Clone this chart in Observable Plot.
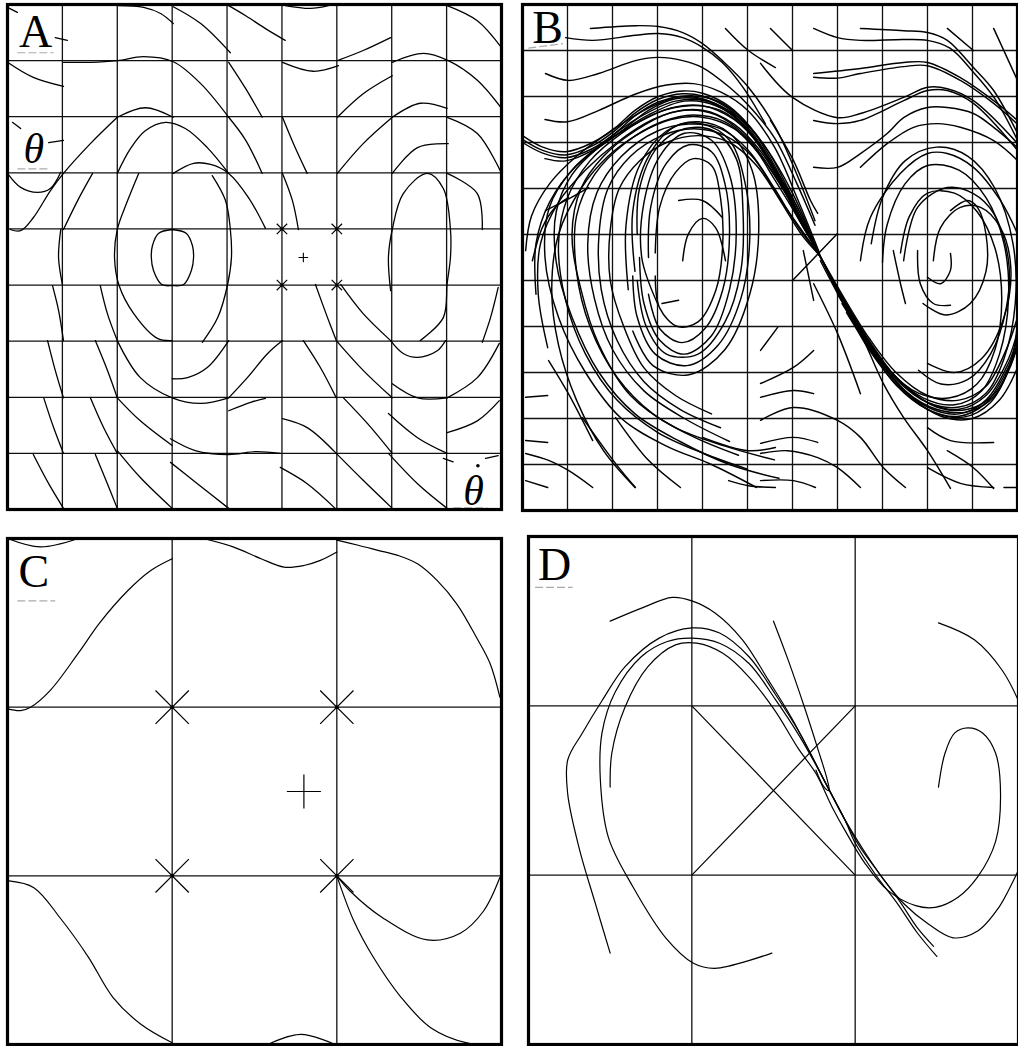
<!DOCTYPE html>
<html><head><meta charset="utf-8">
<script src="https://cdn.jsdelivr.net/npm/d3@7"></script>
<script src="https://cdn.jsdelivr.net/npm/@observablehq/plot@0.6"></script>
<style>
html,body{margin:0;padding:0;background:#fff;overflow:hidden;}
#page{position:relative;width:1018px;height:1046px;overflow:hidden;background:#fff;}
#page svg{position:absolute;}
</style></head><body><div id="page"></div>
<script>
// ---------------- DATA (grid-cell units, y measured downward) ----------------
const gridA = [1,2,3,4,5,6,7,8];
const gridB = [1,2,3,4,5,6,7,8,9,10];
const grid3 = [1,2];

const curvesA = [
 [[0,0.05],[0.18,0.14]],
 [[0.87,0.59],[1.09,0.64]],
 [[2.02,0.02],[2.48,0.05],[2.79,0.16],[3.02,0.34]],
 [[3.02,0.04],[3.52,0.34],[4.06,0.86]],
 [[4.03,0.02],[4.34,0.2],[4.7,0.43],[5.06,0.64]],
 [[5.06,0.02],[5.52,0.07],[5.85,0.02]],
 [[6.01,1.0],[6.48,0.82],[6.98,0.59]],
 [[8.01,0.02],[8.56,0.29],[9.0,0.77]],
 [[0,1.03],[0.47,1.3],[1.02,1.46]],
 [[1.02,1.03],[1.51,1.03],[2.0,1.0],[2.48,0.93],[3.02,1.02],[3.52,1.41],[4.03,2.01]],
 [[4.03,1.03],[4.34,1.5],[4.64,2.01]],
 [[5.01,1.03],[5.57,1.19],[6.03,1.09]],
 [[6.01,2.01],[6.48,1.59],[7.01,1.27]],
 [[7.01,1.03],[7.58,0.87],[8.03,1.0],[8.56,1.35],[9.0,1.85]],
 [[2.0,2.01],[2.51,1.84],[3.02,2.01]],
 [[2.0,3.01],[2.24,2.57],[2.51,2.25],[2.88,2.1],[3.24,2.21],[3.64,2.55],[4.03,3.01]],
 [[3.02,3.01],[3.39,2.83],[3.7,2.85],[4.03,3.01],[4.39,3.44],[4.7,3.99]],
 [[4.03,2.01],[4.34,2.42],[4.64,3.01]],
 [[5.01,2.01],[5.21,2.48],[5.46,3.01]],
 [[5.01,3.01],[5.19,3.49],[5.3,4.01]],
 [[6.01,3.01],[6.48,2.48],[7.01,2.01]],
 [[7.01,2.01],[7.52,1.76],[8.01,1.85]],
 [[7.01,3.01],[7.47,2.55],[8.03,2.48]],
 [[8.01,2.01],[8.56,2.3],[9.0,3.01]],
 [[0.97,4.01],[0.93,4.51],[1.0,4.99]],
 [[2.39,3.01],[2.19,3.49],[2.0,4.01],[1.95,4.51],[2.03,5.0],[2.3,5.51],[2.73,5.95],[3.0,5.99]],
 [[3.73,3.05],[3.97,3.49],[4.06,4.01],[4.08,4.51],[4.01,4.99],[3.83,5.58],[3.55,6.02]],
 [[3.0,4.01],[3.26,4.08],[3.37,4.3],[3.39,4.51],[3.35,4.74],[3.21,4.99],[3.0,5.01],[2.81,4.99],[2.66,4.74],[2.62,4.51],[2.64,4.3],[2.75,4.08],[3.0,4.01]],
 [[0.82,5.01],[0.93,5.45],[1.02,5.99]],
 [[1.69,5.01],[1.82,5.51],[2.0,5.99]],
 [[0.73,5.99],[0.87,6.52],[1.02,7.01]],
 [[1.6,5.99],[1.82,6.52],[2.0,7.01]],
 [[2.0,5.99],[2.42,6.65],[3.0,7.01],[3.52,7.11],[4.03,7.01]],
 [[3.0,6.67],[3.28,6.65],[3.64,6.47],[4.03,5.99]],
 [[4.03,7.01],[4.37,6.65],[4.74,6.22],[5.01,5.99]],
 [[0.66,7.01],[0.84,7.54],[1.02,8.0]],
 [[1.51,7.01],[1.75,7.54],[2.0,8.0]],
 [[2.0,7.01],[2.42,7.42],[3.0,7.86]],
 [[2.97,7.74],[3.42,7.95],[4.03,8.02],[4.52,7.97],[4.97,8.0]],
 [[4.03,7.24],[4.43,7.09],[4.7,7.02]],
 [[0.47,8.02],[0.75,8.54],[1.02,8.98]],
 [[1.6,8.02],[1.82,8.54],[2.0,8.98]],
 [[2.0,7.95],[2.42,8.43],[3.0,8.98]],
 [[2.97,8.16],[3.46,8.54],[4.03,8.98]],
 [[5.61,4.99],[5.83,5.58],[5.99,5.99]],
 [[6.07,4.99],[6.48,5.51],[6.98,5.99]],
 [[8.94,5.04],[8.8,5.58],[8.65,6.02]],
 [[5.39,5.99],[5.7,6.47],[5.99,7.01]],
 [[5.99,5.99],[6.48,6.52],[7.01,7.01]],
 [[7.01,6.76],[7.47,7.01],[8.01,7.01]],
 [[8.01,7.01],[8.56,6.65],[8.96,6.04]],
 [[5.01,7.38],[5.46,7.54],[5.99,8.0]],
 [[6.12,7.01],[6.56,7.47],[7.01,8.0]],
 [[6.94,7.29],[7.47,7.72],[8.01,8.0]],
 [[8.01,7.63],[8.56,7.42],[8.96,7.06]],
 [[4.97,8.25],[5.46,8.54],[5.97,8.98]],
 [[5.99,8.0],[6.48,8.48],[7.01,8.98]],
 [[6.94,8.0],[7.47,8.54],[8.01,8.98]],
 [[7.94,8.09],[8.12,8.15]],
 [[8.71,8.09],[8.94,8.04]],
 [[6.98,5.1],[6.94,4.51],[7.01,4.01],[7.21,3.37],[7.65,3.01],[7.94,3.28],[8.07,4.01],[8.07,4.51],[8.01,4.97],[7.94,5.58],[7.52,5.99]],
 [[6.98,5.99],[7.21,6.22],[7.47,6.29],[7.83,6.17],[7.98,5.99]],
 [[8.01,3.01],[8.56,3.37],[8.65,4.01]],
 [[0.05,4.01],[0.24,4.03],[0.47,3.8],[0.78,3.32],[1.02,3.01],[1.51,2.48],[2.0,2.01]],
 [[0,3.01],[0.24,3.26],[0.55,3.35],[0.78,3.28],[0.97,2.99]],
 [[0.75,2.46],[1.02,2.42]],
 [[0.09,2.1],[0.24,2.21]],
 [[1.02,4.01],[1.28,3.49],[1.55,3.01]]
];
const saddlesA = [[5,4],[6,4],[5,5],[6,5]];
const plusA = [[5.39,4.51]];
const labelsA = [{x:0.51,y:0.5,t:"A",italic:false},{x:0.48,y:2.58,t:"θ",italic:true},{x:8.49,y:8.68,t:"θ",italic:true}];
const dotA = [[8.57,8.22]];
const underA = [[0.18,0.86,0.84,0.86],[0.18,2.93,0.73,2.93],[8.12,8.97,8.74,8.97]];

const curvesB = [
 [[0,2.85],[0.45,3.1],[0.96,3.2],[1.56,3.0],[2.07,2.67],[2.5,2.3],[3.02,2.0],[3.56,1.88],[4.0,1.93],[4.6,2.22],[5.1,2.72],[5.6,3.5],[6.1,4.5],[6.6,5.45],[7.1,6.35],[7.7,7.3],[8.3,8.1],[9.0,8.65],[9.7,8.8],[10.3,8.5],[10.8,7.7],[11,7.1]],
 [[0,2.93],[0.45,3.17],[0.96,3.27],[1.56,3.07],[2.07,2.73],[2.5,2.36],[3.02,2.06],[3.56,1.94],[4.0,1.99],[4.6,2.28],[5.1,2.78],[5.6,3.56],[6.1,4.55],[6.6,5.45],[7.1,6.4],[7.7,7.4],[8.3,8.2],[9.0,8.75],[9.7,8.9],[10.3,8.6],[10.8,7.8],[11,7.25]],
 [[0,3.0],[0.45,3.23],[0.96,3.33],[1.56,3.13],[2.07,2.79],[2.5,2.42],[3.02,2.12],[3.56,2.0],[4.0,2.05],[4.6,2.33],[5.1,2.83],[5.6,3.6],[6.1,4.58],[6.6,5.45],[7.1,6.42],[7.7,7.45],[8.3,8.27],[9.0,8.8],[9.7,8.95],[10.3,8.66],[10.8,7.88],[11,7.35]],
 [[0.5,3.35],[0.96,3.4],[1.6,3.15],[2.2,2.75],[2.8,2.3],[3.4,2.05],[4.0,2.07],[4.6,2.36],[5.1,2.85],[5.6,3.6],[6.1,4.6],[6.6,5.45],[7.1,6.45],[7.7,7.5],[8.4,8.35],[9.1,8.85],[9.8,8.97],[10.4,8.65],[10.85,7.85],[11,7.4]],
 [[0.5,2.5],[1.0,2.55],[1.7,2.3],[2.5,1.95],[3.2,1.75],[3.8,1.72],[4.4,1.9],[5.0,2.3],[5.6,3.1],[6.1,4.2],[6.6,5.4]],
 [[0.51,1.5],[1.02,1.65],[1.69,1.5],[2.51,1.22],[3.02,1.15],[3.56,1.22],[4.0,1.37],[4.6,1.8],[5.0,2.17],[5.6,2.9],[6.1,3.9],[6.5,4.8]],
 [[0.96,0.72],[1.56,0.78],[2.51,0.67],[3.02,0.63],[3.56,0.72],[4.0,0.93],[4.44,1.26],[4.9,1.8],[5.4,2.6]],
 [[1.51,0.52],[2.51,0.46],[3.02,0.48],[3.56,0.61],[4.0,0.85],[4.44,1.22],[5.02,1.8],[5.62,2.67],[6.1,3.7],[6.5,4.7]],
 [[7.51,0.52],[8.47,0.57],[9.0,0.61],[9.44,0.78],[10.02,1.37],[10.47,1.87],[11,2.8]],
 [[6.47,0.52],[7.0,0.72],[7.51,0.78],[8.47,0.76],[9.0,0.78],[9.5,0.95],[10.0,1.45],[10.5,2.05],[11,2.95]],
 [[6.47,1.5],[7.51,1.39],[8.47,1.26],[9.0,1.26],[9.73,1.59],[10.47,2.09],[11,2.52]],
 [[6.47,1.58],[7.0,1.6],[7.51,1.5],[8.47,1.35],[9.0,1.33],[9.73,1.65],[10.47,2.15],[11,2.6]],
 [[5.29,1.28],[6.0,2.02],[7.0,2.46],[7.51,2.37],[8.47,2.02],[9.0,1.8],[9.44,1.83],[10.02,2.09],[11,3.02]],
 [[6.47,2.52],[7.0,2.59],[7.51,2.52],[8.47,2.09],[9.0,1.87],[9.44,1.87],[10.02,2.15],[11,3.17]],
 [[6.47,3.54],[7.0,3.54],[7.51,3.24],[8.11,2.8],[8.47,2.46],[9.0,2.24],[9.44,2.24],[10.02,2.37],[10.47,2.67],[11,3.11]],
 [[7.51,3.54],[8.11,3.02],[8.69,2.67],[9.22,2.59],[9.73,2.67],[10.47,2.96],[11,3.39]],
 [[7.51,5.57],[7.73,4.63],[8.4,3.67],[9.0,3.24],[9.44,3.24],[10.02,3.54],[10.62,4.26],[11,4.98]],
 [[8.47,5.57],[8.78,4.41],[9.44,3.98],[10.02,4.11],[10.47,4.54],[10.8,5.57],[10.75,6.6],[10.4,7.6],[9.9,8.15],[9.3,8.25],[8.8,7.95]],
 [[9.13,5.57],[9.29,4.85],[9.73,4.41],[10.18,4.41],[10.62,4.85],[10.85,5.7],[10.7,6.8],[10.2,7.7],[9.6,8.0],[9.0,7.8]],
 [[9.51,4.48],[9.89,4.26],[10.11,4.41],[10.3,5.0],[10.3,5.8],[9.95,6.5],[9.4,6.75],[8.9,6.5]],
 [[9.0,5.93],[9.29,6.07],[9.51,5.78],[9.51,5.41]],
 [[8.78,5.35],[8.84,6.07],[9.13,6.5],[9.51,6.54]],
 [[8.24,5.35],[8.4,6.07],[8.51,6.5]],
 [[7.0,6.3],[7.6,7.2],[8.2,8.0],[8.9,8.55],[9.6,8.7],[10.2,8.4],[10.6,7.6],[10.8,6.4],[10.7,5.2],[10.3,4.2],[9.7,3.6],[9.0,3.5],[8.5,3.9],[8.1,4.8],[8.0,5.6]],
 [[6.9,6.0],[7.5,7.0],[8.1,7.9],[8.8,8.45],[9.5,8.55],[10.1,8.25],[10.5,7.5],[10.65,6.4],[10.5,5.3],[10.1,4.5],[9.6,4.1],[9.0,4.1],[8.6,4.6],[8.4,5.4]],
 [[7.1,6.5],[7.7,7.4],[8.3,8.15],[9.0,8.65],[9.7,8.75],[10.3,8.45],[10.7,7.7],[10.95,6.5],[10.9,5.2],[10.5,4.0],[9.9,3.3],[9.2,3.1],[8.5,3.4],[8.0,4.2],[7.75,5.2]],
 [[7.2,6.7],[7.8,7.6],[8.5,8.4],[9.2,8.8],[9.9,8.85],[10.5,8.5],[10.9,7.6],[11,6.8]],
 [[6.6,5.45],[7.1,6.3],[7.7,7.25],[8.3,8.0],[9.0,8.5],[9.7,8.6],[10.3,8.3],[10.75,7.5],[11,6.8]],
 [[6.6,5.45],[7.15,6.45],[7.8,7.5],[8.5,8.3],[9.2,8.75],[9.9,8.8],[10.5,8.45],[10.9,7.7],[11,7.4]],
 [[6.6,5.45],[7.2,6.6],[7.9,7.7],[8.6,8.5],[9.3,8.95],[10.0,9.0],[10.6,8.6],[11,7.9]],
 [[6.62,5.57],[7.0,6.28],[7.51,7.15],[8.02,8.24],[8.47,8.98],[9.0,9.7],[9.51,10.52]],
 [[6.47,6.07],[7.0,7.15],[7.51,8.46]],
 [[6.24,5.35],[6.47,6.43]],
 [[6.56,4.54],[6.4,4.26],[6.02,3.39],[5.51,2.52]],
 [[5.29,9.04],[6.02,8.76],[7.0,9.04],[7.51,9.41],[8.02,10.07],[8.51,10.5]],
 [[5.29,9.54],[6.02,9.41],[6.56,9.52]],
 [[5.29,9.76],[5.89,9.7],[6.56,9.85],[7.0,10.07],[7.51,10.5]],
 [[5.29,10.35],[6.02,10.35],[6.51,10.5]],
 [[5.29,8.24],[6.02,7.89],[6.47,7.52]],
 [[5.29,7.52],[5.67,7.02]],
 [[5.29,8.54],[6.02,8.39],[6.47,8.46]],
 [[9.0,9.2],[9.51,9.48],[10.47,9.52]],
 [[9.44,9.7],[10.02,10.07],[10.47,10.52]],
 [[9.0,10.07],[9.73,10.41],[10.47,10.5]],
 [[10.7,10.5],[11,10.5]],
 [[0.07,8.54],[0.56,8.5]],
 [[0.07,9.48],[0.56,9.52]],
 [[0.07,9.76],[0.58,9.91],[1.02,10.13],[1.56,10.5]],
 [[0.07,10.35],[0.56,10.5]],
 [[0.58,7.74],[1.02,8.46],[1.56,9.48]],
 [[1.33,8.98],[2.07,9.98],[2.51,10.5]],
 [[2.07,8.98],[2.8,9.91],[3.51,10.5]],
 [[4.0,9.41],[5.02,9.7],[5.62,9.63]],
 [[4.58,10.35],[5.02,10.46],[5.62,10.5]],
 [[3.0,6.5],[2.65,5.5],[2.7,4.3],[3.05,3.3],[3.6,2.8],[4.2,2.95],[4.6,3.7],[4.75,4.9],[4.6,6.2],[4.2,7.2],[3.6,7.6],[3.05,7.3],[2.7,6.5],[2.6,5.5]],
 [[2.8,5.5],[2.85,4.4],[3.2,3.45],[3.7,3.05],[4.2,3.2],[4.5,3.9],[4.6,5.0],[4.45,6.2],[4.05,7.05],[3.55,7.35],[3.05,7.05],[2.8,6.3]],
 [[2.95,5.4],[3.05,4.4],[3.4,3.65],[3.8,3.35],[4.2,3.5],[4.4,4.2],[4.45,5.2],[4.3,6.2],[3.9,6.9],[3.45,7.0],[3.05,6.6],[2.95,5.9]],
 [[2.5,5.8],[2.45,4.5],[2.8,3.3],[3.4,2.65],[4.0,2.6],[4.6,2.95],[4.95,3.9],[5.05,5.1],[4.85,6.4],[4.35,7.4],[3.65,7.85],[2.95,7.6],[2.55,6.8],[2.45,5.9]],
 [[2.55,5.0],[2.6,4.0],[3.0,3.1],[3.6,2.7],[4.25,2.75],[4.75,3.35],[4.9,4.5],[4.85,5.8],[4.5,6.9],[3.9,7.6],[3.2,7.6],[2.75,7.0],[2.55,6.0]],
 [[2.35,6.2],[2.3,4.8],[2.6,3.5],[3.2,2.75],[3.9,2.55],[4.6,2.8],[5.1,3.6],[5.25,4.9],[5.05,6.3],[4.5,7.5],[3.7,8.05],[2.9,7.85],[2.45,7.1]],
 [[3.56,5.57],[3.69,4.98],[4.0,4.65],[4.29,4.85],[4.51,5.57]],
 [[3.47,4.26],[4.0,4.26],[4.44,4.63]],
 [[3.1,6.5],[3.47,6.43]],
 [[5.2,10.5],[4.2,10.0],[3.2,9.6],[2.2,9.0],[1.4,8.0],[0.8,6.8],[0.5,5.5],[0.6,4.4],[1.1,3.6],[1.8,3.0],[2.6,2.45],[3.4,2.1],[4.1,2.1],[4.8,2.45],[5.4,3.1],[5.9,4.0],[6.3,4.8],[6.6,5.45]],
 [[5.0,10.1],[4.0,9.75],[3.0,9.3],[2.1,8.6],[1.4,7.6],[0.95,6.4],[0.8,5.2],[1.0,4.2],[1.5,3.4],[2.2,2.8],[3.0,2.35],[3.7,2.2],[4.4,2.3],[5.0,2.75],[5.6,3.6],[6.1,4.5],[6.6,5.45]],
 [[4.8,9.8],[3.8,9.4],[2.9,8.9],[2.1,8.1],[1.5,7.0],[1.2,5.8],[1.2,4.6],[1.6,3.7],[2.3,3.0],[3.1,2.55],[3.8,2.4],[4.5,2.55],[5.1,3.05],[5.6,3.8],[6.1,4.6],[6.6,5.45]],
 [[4.6,9.5],[3.6,9.0],[2.7,8.4],[2.0,7.5],[1.6,6.4],[1.45,5.2],[1.65,4.1],[2.2,3.3],[3.0,2.75],[3.7,2.6],[4.4,2.7],[5.0,3.15],[5.6,4.0],[6.1,4.8],[6.6,5.45]],
 [[4.4,9.2],[3.5,8.8],[2.7,8.2],[2.1,7.3],[1.75,6.2],[1.7,5.0],[1.9,4.0],[2.4,3.3],[3.1,2.85],[3.8,2.7],[4.5,2.85],[5.1,3.3],[5.7,4.2],[6.2,4.9],[6.6,5.45]],
 [[4.2,8.9],[3.4,8.5],[2.7,7.9],[2.25,7.0],[1.95,6.0],[1.95,4.9],[2.15,4.0],[2.6,3.4],[3.2,3.0],[3.9,2.85],[4.6,3.0],[5.2,3.5],[5.75,4.3],[6.2,5.0],[6.6,5.45]],
 [[5.6,9.9],[4.5,9.6],[3.4,9.2],[2.4,8.5],[1.7,7.4],[1.3,6.2],[1.1,5.0],[1.3,4.0],[1.8,3.3],[2.5,2.75],[3.3,2.35],[4.0,2.3],[4.7,2.6],[5.3,3.2],[5.8,4.0],[6.3,4.9],[6.6,5.45]],
 [[5.7,10.3],[4.6,10.0],[3.5,9.5],[2.5,8.9],[1.7,8.0],[1.1,6.8],[0.75,5.6],[0.75,4.5],[1.1,3.7],[1.7,3.1],[2.5,2.6],[3.3,2.25],[4.0,2.2],[4.7,2.5],[5.3,3.1],[5.9,4.1],[6.6,5.45]],
 [[0.07,5.35],[0.2,4.6],[0.6,3.9],[1.2,3.3],[1.9,2.8],[2.7,2.3],[3.5,2.0],[4.2,2.05],[4.8,2.4],[5.4,3.1],[6.0,4.1],[6.6,5.45]],
 [[0.3,6.3],[0.3,5.2],[0.6,4.3],[1.2,3.5],[2.0,2.9],[2.8,2.4],[3.6,2.1],[4.3,2.2],[4.9,2.6],[5.5,3.4],[6.1,4.4],[6.6,5.45]],
 [[0.56,7.46],[0.35,6.3],[0.4,5.2],[0.8,4.3],[1.4,3.6],[2.1,3.0],[2.9,2.5],[3.6,2.3],[4.3,2.4],[5.0,2.9],[5.6,3.7],[6.2,4.7],[6.6,5.45]],
 [[2.5,10.5],[1.8,9.7],[1.2,8.6],[0.8,7.4],[0.65,6.2],[0.8,5.0],[1.3,4.0],[1.9,3.3],[2.6,2.8],[3.3,2.5],[4.0,2.45],[4.7,2.7],[5.3,3.3],[5.9,4.2],[6.6,5.45]],
 [[5.51,0.52],[6.0,1.0]],
 [[9.44,0.52],[10.02,1.0]],
 [[10.47,0.52],[11,1.65]],
 [[4.51,0.52],[5.02,1.0],[5.62,1.37]],
 [[0.51,4.48],[0.96,4.26],[1.47,3.98]],
 [[0.22,5.57],[0.44,4.85],[0.73,4.41],[1.02,4.2]],
 [[6.0,6.0],[7.0,4.98]]
];
const labelsB = [{x:0.56,y:0.52,t:"B",italic:false}];
const underB = [[0.13,0.95,0.9,0.85]];

const curvesC = [
 [[0,0],[0.2,0.05],[0.43,0.0]],
 [[0.0,1.01],[0.08,1.02],[0.14,1.0],[0.26,0.9],[0.43,0.68],[0.56,0.5],[0.73,0.31],[0.87,0.19],[1.0,0.12]],
 [[1.19,0.0],[1.37,0.05],[1.54,0.12],[1.68,0.17],[1.8,0.16],[1.9,0.13],[2.0,0.08]],
 [[2.0,0.01],[2.13,0.04],[2.25,0.07],[2.37,0.1],[2.49,0.15],[2.61,0.25],[2.73,0.39],[2.85,0.59],[2.93,0.74],[2.99,0.94]],
 [[0.01,2.03],[0.16,2.07],[0.32,2.25],[0.49,2.48],[0.64,2.72],[0.81,2.88],[1.0,2.99]],
 [[1.58,3.0],[1.78,2.94],[1.99,3.0]],
 [[2.0,2.0],[2.08,2.09],[2.28,2.25],[2.55,2.38],[2.75,2.34],[2.89,2.21],[2.99,2.01]],
 [[2.0,2.0],[2.1,2.26],[2.22,2.48],[2.39,2.72],[2.57,2.9],[2.79,2.99],[2.99,3.0]]
];
const saddlesC = [[1,1],[2,1],[1,2],[2,2]];
const plusC = [[1.8,1.5]];
const labelsC = [{x:0.16,y:0.2,t:"C",italic:false}];
const underC = [[0.06,0.37,0.29,0.37]];

const curvesD = [
 [[0.5,0.5],[0.7,0.42],[0.88,0.36],[1.0,0.38],[1.14,0.45],[1.31,0.61],[1.47,0.85],[1.61,1.07],[1.71,1.25],[1.82,1.46],[1.94,1.68],[2.0,1.81],[2.12,1.99],[2.26,2.17],[2.38,2.34],[2.5,2.48]],
 [[0.5,1.48],[0.51,1.28],[0.59,1.01],[0.73,0.77],[0.9,0.64],[1.03,0.63],[1.19,0.69],[1.35,0.83],[1.51,1.03],[1.65,1.25],[1.76,1.4],[1.86,1.6],[1.94,1.74],[2.06,1.93],[2.2,2.09],[2.37,2.18],[2.49,2.19],[2.63,2.13],[2.75,2.01],[2.86,1.8],[2.89,1.52],[2.86,1.28],[2.78,1.16],[2.69,1.13],[2.61,1.16],[2.55,1.28],[2.51,1.48]],
 [[1.49,2.46],[1.14,2.55],[1.01,2.52],[0.84,2.37],[0.64,2.07],[0.49,1.78],[0.44,1.44],[0.45,1.16],[0.53,0.92],[0.69,0.71],[0.85,0.62],[1.0,0.6],[1.17,0.63],[1.35,0.75],[1.51,0.96],[1.66,1.18],[1.8,1.42],[1.93,1.66],[2.05,1.85],[2.17,2.02],[2.3,2.17],[2.45,2.29],[2.6,2.37],[2.75,2.33],[2.88,2.19],[2.97,2.03],[3.0,1.97]],
 [[0.5,2.46],[0.41,2.17],[0.31,1.84],[0.24,1.52],[0.24,1.32],[0.33,1.16],[0.45,0.97],[0.59,0.77],[0.8,0.6],[1.0,0.54],[1.17,0.57],[1.35,0.71],[1.51,0.93],[1.66,1.16],[1.8,1.42],[1.92,1.64],[2.02,1.82],[2.14,1.98],[2.27,2.15],[2.38,2.31],[2.48,2.42]],
 [[1.5,0.5],[1.59,0.73],[1.69,1.01],[1.77,1.25],[1.83,1.44],[1.84,1.5],[1.81,1.48],[1.76,1.38]],
 [[2.51,0.51],[2.73,0.61],[2.9,0.79],[3.0,0.97]]
];
const crossD = [[1,1,2,2],[1,2,2,1]];
const labelsD = [{x:0.16,y:0.17,t:"D",italic:false}];
const underD = [[0.04,0.3,0.27,0.3]];

// ---------------- RENDER ----------------
const page = document.getElementById("page");
const toRows = cs => cs.flatMap((c,i) => c.map(([x,y]) => ({x, y, id:i})));
const pts = a => a.map(([x,y]) => ({x,y}));
const segs = a => a.map(([x1,y1,x2,y2]) => ({x1,y1,x2,y2}));

function panel({box, n, grid, curves, sw, extra}) {
  const m = 3;
  const [x0,y0,x1,y1] = box;
  const svg = Plot.plot({
    width: (x1-x0)+2*m, height: (y1-y0)+2*m,
    marginTop:m, marginRight:m, marginBottom:m, marginLeft:m,
    x: {domain:[0,n], axis:null},
    y: {domain:[0,n], axis:null, reverse:true},
    style: {background:"transparent", overflow:"visible"},
    marks: [
      Plot.ruleX(grid, {stroke:"#111", strokeWidth:1.3}),
      Plot.ruleY(grid, {stroke:"#111", strokeWidth:1.3}),
      Plot.line(toRows(curves), {x:"x", y:"y", z:"id", curve:"catmull-rom", stroke:"#000", strokeWidth:sw, clip:true}),
      ...extra,
      Plot.frame({stroke:"#000", strokeWidth:3.2})
    ]
  });
  svg.style.left = (x0-m)+"px";
  svg.style.top = (y0-m)+"px";
  page.appendChild(svg);
}
function labelMarks(labels, under, size) {
  return [
    Plot.link(segs(under), {x1:"x1", y1:"y1", x2:"x2", y2:"y2", stroke:"#aaa", strokeWidth:1.2, strokeDasharray:"8,3"}),
    Plot.text(labels.filter(d=>!d.italic), {x:"x", y:"y", text:"t", fontSize:size, fontFamily:"Liberation Serif, DejaVu Serif, serif", fill:"#000"}),
    Plot.text(labels.filter(d=>d.italic), {x:"x", y:"y", text:"t", fontSize:size-4, fontStyle:"italic", fontFamily:"Liberation Serif, DejaVu Serif, serif", fill:"#000"})
  ];
}

panel({box:[7,4,501,509], n:9, grid:gridA, curves:curvesA, sw:1.3, extra:[
  Plot.dot(pts(saddlesA), {x:"x", y:"y", symbol:"times", r:4.8, stroke:"#000", strokeWidth:1.2}),
  Plot.dot(pts(saddlesA), {x:"x", y:"y", r:1.6, fill:"#000"}),
  Plot.dot(pts(plusA), {x:"x", y:"y", symbol:"plus", r:3.2, stroke:"#000", strokeWidth:1.1}),
  Plot.dot(pts(dotA), {x:"x", y:"y", r:1.8, fill:"#000"}),
  ...labelMarks(labelsA, underA, 46)
]});

panel({box:[522,4,1017,510], n:11, grid:gridB, curves:curvesB, sw:1.45, extra:[
  ...labelMarks(labelsB, underB, 46)
]});

panel({box:[7,538,501,1044], n:3, grid:grid3, curves:curvesC, sw:1.2, extra:[
  Plot.dot(pts(saddlesC), {x:"x", y:"y", symbol:"times", r:15.2, stroke:"#000", strokeWidth:1.2}),
  Plot.dot(pts(saddlesC), {x:"x", y:"y", r:2, fill:"#000"}),
  Plot.dot(pts(plusC), {x:"x", y:"y", symbol:"plus", r:11, stroke:"#000", strokeWidth:1.2}),
  ...labelMarks(labelsC, underC, 46)
]});

panel({box:[528,536,1018,1044], n:3, grid:grid3, curves:curvesD, sw:1.2, extra:[
  Plot.link(segs(crossD), {x1:"x1", y1:"y1", x2:"x2", y2:"y2", stroke:"#000", strokeWidth:1.2}),
  ...labelMarks(labelsD, underD, 46)
]});
</script>
</body></html>
